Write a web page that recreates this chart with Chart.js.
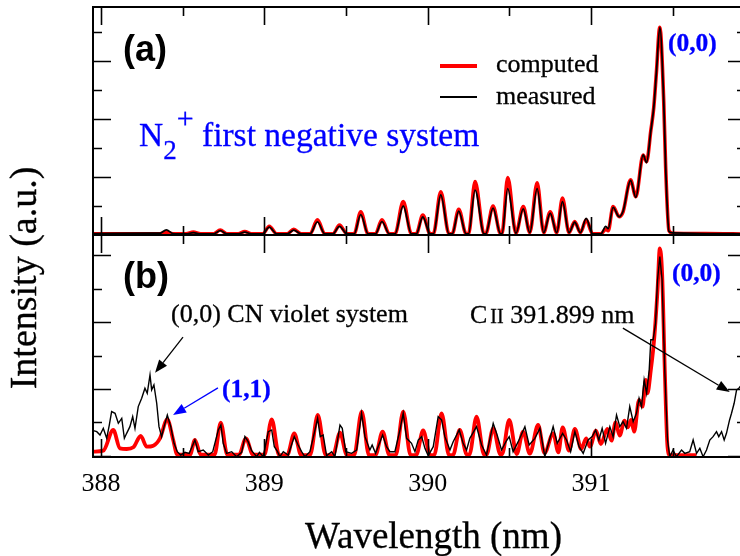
<!DOCTYPE html>
<html><head><meta charset="utf-8">
<script src="https://cdn.jsdelivr.net/npm/chart.js@4/dist/chart.umd.min.js"></script>
<style>
html,body{margin:0;padding:0;overflow:hidden;background:#fff;width:740px;height:556px;}
#wrap{position:relative;width:740px;height:556px;overflow:hidden;background:#fff;}
canvas{position:absolute;left:0;top:0;}
.t{position:absolute;white-space:nowrap;line-height:1;font-family:"Liberation Serif","Times New Roman",serif;color:#000;-webkit-text-stroke:0.3px currentColor;}
.s{position:absolute;white-space:nowrap;line-height:1;font-family:"Liberation Sans",Arial,sans-serif;font-weight:bold;color:#000;}
.blue{color:#0000ff;}
</style></head><body>
<div id="wrap">
<canvas id="ca" width="750" height="556"></canvas>
<canvas id="cb" width="750" height="556"></canvas>
<div class="s" style="left:123px;top:31px;font-size:36px;">(a)</div>
<div class="s" style="left:123px;top:258px;font-size:36px;">(b)</div>
<div class="t blue" style="left:139px;top:118px;font-size:33.5px;">N<span style="font-size:27px;position:relative;top:13px;">2</span><span style="font-size:30px;position:relative;top:-18px;">+</span> first negative system</div>
<div style="position:absolute;left:440px;top:64px;width:37px;height:4px;background:#ff0000;"></div>
<div style="position:absolute;left:440px;top:96px;width:37px;height:1.5px;background:#000;"></div>
<div class="t" style="left:496px;top:51px;font-size:26px;">computed</div>
<div class="t" style="left:496px;top:83px;font-size:26px;">measured</div>
<div class="t blue" style="left:668px;top:30px;font-size:25.5px;font-weight:bold;">(0,0)</div>
<div class="t blue" style="left:672px;top:260px;font-size:25.5px;font-weight:bold;">(0,0)</div>
<div class="t" style="left:171px;top:301px;font-size:26px;">(0,0) CN violet system</div>
<div class="t" style="left:470px;top:302px;font-size:26px;">C<span style="font-size:20px;margin-left:3px;">II</span> 391.899 nm</div>
<div class="t blue" style="left:222px;top:376px;font-size:25.5px;font-weight:bold;">(1,1)</div>
<div class="t" style="left:-127px;top:259px;width:300px;height:38px;font-size:38px;text-align:center;transform:rotate(-90deg);">Intensity (a.u.)</div>
<div class="t" style="left:305px;top:517px;font-size:37px;">Wavelength (nm)</div>
</div>
<script>
// ---- tick values ----
const xTicks = [388, 389, 390, 391];
const xTickMarks = [388, 388.5, 389, 389.5, 390, 390.5, 391, 391.5];
const aYTickMarks = [1, 2, 3, 4, 5, 6, 7];
const bYTickMarks = [0, 1, 2, 3, 4, 5, 6];

// ---- panel (a): N2+ first negative system ----
const aWavelength = [
  387.955, 388.30, 388.36, 388.40, 388.44, 388.52, 388.565, 388.61, 388.69, 388.73,
  388.77, 388.84, 388.88, 388.92, 388.99, 389.03, 389.075, 389.14, 389.18, 389.225,
  389.28, 389.325, 389.37, 389.42, 389.46, 389.505, 389.55, 389.59, 389.635, 389.68,
  389.72, 389.765, 389.80, 389.85, 389.90, 389.93, 389.97, 390.015, 390.035, 390.08,
  390.13, 390.15, 390.19, 390.235, 390.25, 390.29, 390.345, 390.355, 390.40, 390.445,
  390.455, 390.49, 390.54, 390.585, 390.625, 390.67, 390.71, 390.75, 390.79, 390.825,
  390.865, 390.90, 390.935, 390.97, 391.01, 391.06, 391.09, 391.105, 391.135, 391.172,
  391.196, 391.242, 391.274, 391.319, 391.34, 391.366, 391.384, 391.40, 391.421, 391.445,
  391.457, 391.477, 391.50, 391.70, 391.95];
const aComputed = [
  0.04, 0.04, 0.04, 0.10, 0.04, 0.04, 0.10, 0.04, 0.04, 0.17,
  0.04, 0.04, 0.12, 0.04, 0.04, 0.30, 0.04, 0.04, 0.20, 0.04,
  0.04, 0.52, 0.04, 0.04, 0.34, 0.04, 0.04, 0.80, 0.04, 0.04,
  0.52, 0.04, 0.04, 1.15, 0.04, 0.04, 0.69, 0.04, 0.04, 1.49,
  0.04, 0.04, 0.89, 0.04, 0.04, 1.84, 0.04, 0.04, 1.00, 0.05,
  0.05, 1.98, 0.06, 0.98, 0.08, 1.80, 0.08, 0.80, 0.08, 1.27,
  0.08, 0.46, 0.08, 0.52, 0.04, 0.04, 0.20, 0.15, 0.98, 0.63,
  0.80, 1.90, 1.32, 2.76, 2.53, 3.60, 4.40, 5.60, 7.16, 4.60,
  2.30, 0.15, 0.06, 0.05, 0.03];
const aMeasured = [
  0.05, 0.06, 0.06, 0.18, 0.05, 0.04, 0.08, 0.04, 0.04, 0.15,
  0.04, 0.04, 0.10, 0.04, 0.04, 0.27, 0.04, 0.04, 0.17, 0.04,
  0.04, 0.45, 0.04, 0.04, 0.30, 0.04, 0.04, 0.70, 0.04, 0.04,
  0.46, 0.04, 0.04, 1.00, 0.04, 0.04, 0.62, 0.04, 0.04, 1.38,
  0.04, 0.04, 0.82, 0.04, 0.04, 1.55, 0.04, 0.04, 0.93, 0.05,
  0.05, 1.60, 0.06, 0.90, 0.08, 1.60, 0.08, 0.75, 0.08, 1.15,
  0.08, 0.44, 0.08, 0.57, 0.04, 0.04, 0.30, 0.22, 0.95, 0.63,
  0.82, 1.88, 1.30, 2.76, 2.50, 3.60, 4.40, 5.60, 7.16, 4.60,
  2.30, 0.12, 0.07, 0.05, 0.04];

// ---- panel (b): computed ----
const bCompWavelength = [
  387.955, 388.014, 388.075, 388.116, 388.157, 388.198, 388.243, 388.280, 388.320, 388.361,
  388.406, 388.442, 388.467, 388.545, 388.575, 388.610, 388.695, 388.733, 388.773, 388.845,
  388.887, 388.930, 389.000, 389.045, 389.090, 389.140, 389.183, 389.225, 389.280, 389.327,
  389.375, 389.420, 389.463, 389.505, 389.550, 389.596, 389.640, 389.680, 389.724, 389.765,
  389.805, 389.850, 389.895, 389.930, 389.972, 390.015, 390.040, 390.085, 390.130, 390.155,
  390.196, 390.240, 390.255, 390.299, 390.345, 390.360, 390.401, 390.445, 390.455, 390.499,
  390.545, 390.584, 390.625, 390.676, 390.715, 390.768, 390.800, 390.826, 390.865, 390.901,
  390.940, 390.970, 390.993, 391.030, 391.060, 391.100, 391.125, 391.150, 391.175, 391.205,
  391.225, 391.245, 391.264, 391.294, 391.315, 391.335, 391.345, 391.366, 391.386, 391.407,
  391.421, 391.435, 391.452, 391.468, 391.482, 391.646];
const bComputed = [
  0.12, 0.15, 0.77, 0.22, 0.20, 0.25, 0.59, 0.27, 0.30, 0.52,
  1.09, 0.47, 0.03, 0.03, 0.47, 0.03, 0.03, 0.99, 0.03, 0.03,
  0.52, 0.03, 0.03, 1.09, 0.02, 0.02, 0.67, 0.02, 0.02, 1.22,
  0.02, 0.02, 0.69, 0.02, 0.02, 1.32, 0.02, 0.02, 0.72, 0.02,
  0.02, 1.32, 0.02, 0.02, 0.76, 0.02, 0.02, 1.27, 0.02, 0.02,
  0.77, 0.03, 0.03, 1.17, 0.03, 0.03, 0.82, 0.04, 0.04, 1.07,
  0.05, 0.72, 0.06, 0.92, 0.08, 0.67, 0.10, 0.85, 0.15, 0.80,
  0.20, 0.52, 0.27, 0.75, 0.35, 0.80, 0.45, 1.00, 0.60, 1.05,
  0.85, 1.07, 0.72, 1.67, 1.47, 2.27, 1.87, 2.57, 3.47, 4.96,
  6.21, 5.46, 2.47, 0.27, 0.02, 0.02];

// ---- panel (b): measured ----
const bMeasWavelength = [
  387.953, 387.974, 387.994, 388.014, 388.035, 388.051, 388.065, 388.086, 388.106, 388.127,
  388.143, 388.157, 388.177, 388.194, 388.208, 388.228, 388.249, 388.269, 388.283, 388.300,
  388.310, 388.324, 388.341, 388.355, 388.371, 388.386, 388.406, 388.427, 388.447, 388.467,
  388.488, 388.514, 388.540, 388.575, 388.595, 388.626, 388.657, 388.684, 388.718, 388.734,
  388.748, 388.769, 388.800, 388.830, 388.861, 388.881, 388.901, 388.922, 388.953, 388.970,
  388.993, 389.024, 389.045, 389.061, 389.081, 389.095, 389.116, 389.146, 389.183, 389.207,
  389.228, 389.248, 389.279, 389.310, 389.326, 389.342, 389.360, 389.381, 389.412, 389.432,
  389.463, 389.477, 389.498, 389.534, 389.565, 389.595, 389.616, 389.646, 389.660, 389.681,
  389.724, 389.748, 389.769, 389.799, 389.830, 389.850, 389.871, 389.901, 389.922, 389.942,
  389.963, 389.983, 390.003, 390.034, 390.064, 390.085, 390.105, 390.136, 390.156, 390.193,
  390.217, 390.238, 390.258, 390.299, 390.330, 390.360, 390.401, 390.425, 390.452, 390.479,
  390.499, 390.523, 390.554, 390.595, 390.621, 390.656, 390.687, 390.717, 390.737, 390.768,
  390.793, 390.826, 390.850, 390.875, 390.901, 390.927, 390.952, 390.982, 391.007, 391.028,
  391.048, 391.068, 391.089, 391.115, 391.135, 391.156, 391.176, 391.196, 391.217, 391.237,
  391.258, 391.278, 391.294, 391.309, 391.325, 391.340, 391.356, 391.366, 391.380, 391.395,
  391.407, 391.421, 391.435, 391.452, 391.468, 391.482, 391.502, 391.523, 391.554, 391.574,
  391.604, 391.625, 391.646, 391.666, 391.686, 391.707, 391.727, 391.747, 391.768, 391.782,
  391.799, 391.815, 391.829, 391.848, 391.860, 391.876, 391.891, 391.905, 391.950];
const bMeasured = [
  0.75, 0.72, 0.62, 0.82, 0.52, 0.92, 1.32, 1.27, 0.97, 1.12,
  0.52, 0.67, 0.87, 1.17, 0.82, 1.47, 1.72, 2.02, 1.87, 2.42,
  1.97, 2.12, 1.57, 0.87, 0.57, 0.87, 1.22, 0.87, 0.37, 0.12,
  0.02, 0.10, 0.07, 0.47, 0.12, 0.17, 0.02, 0.12, 0.77, 0.92,
  0.37, 0.07, 0.12, -0.03, 0.10, 0.57, 0.42, 0.15, -0.03, 0.10,
  -0.03, 0.72, 0.77, 0.27, 0.12, -0.03, 0.12, 0.02, 0.57, 0.32,
  0.12, -0.03, 0.12, 0.77, 1.12, 0.57, 0.62, 0.00, 0.12, -0.03,
  0.92, 0.82, 0.12, 0.07, 0.17, 1.27, 0.57, 0.17, 0.32, 0.07,
  0.62, 0.27, 0.12, 0.12, 0.77, 1.27, 0.52, 0.37, 0.12, 0.47,
  0.57, 0.22, 0.00, 0.27, 1.17, 1.07, 0.57, 0.17, 0.42, 0.77,
  0.37, 0.17, 0.52, 0.87, 0.32, 0.02, 0.97, 0.62, 0.17, 0.42,
  0.57, 0.12, 0.42, 0.87, 0.32, 0.52, 0.82, -0.03, 0.32, 0.87,
  0.37, 0.67, 0.47, 0.12, 0.72, 0.27, 0.07, 0.47, 0.57, 0.77,
  0.47, 0.82, 0.37, 0.87, 0.57, 1.22, 0.87, 1.02, 0.82, 1.47,
  1.02, 1.27, 1.72, 1.47, 2.27, 1.87, 2.57, 3.47, 3.47, 3.97,
  5.26, 5.96, 5.26, 2.47, 0.47, -0.03, 0.17, -0.03, 0.17, 0.07,
  0.12, 0.47, 0.07, 0.22, -0.03, 0.17, 0.47, 0.57, 0.72, 0.57,
  0.72, 0.47, 0.67, 1.07, 1.27, 1.57, 1.97, 2.02, 2.30];

// ---- annotation arrows (panel b, data coordinates) ----
const arrows = [
  {from: [388.502, 3.55], to: [388.331, 2.48], color: '#000000'},
  {from: [388.716, 2.03], to: [388.441, 1.22], color: '#0000ff'},
  {from: [391.195, 3.82], to: [391.849, 1.91], color: '#000000'}
];

const X_MIN = 387.951, X_MAX = 391.9486;
const SERIF = '"Liberation Serif", "Times New Roman", serif';

function pts(xs, ys) { return xs.map((x, i) => ({x: x, y: ys[i]})); }

function framePlugin(yMarks, majorTest) {
  return {
    id: 'frame',
    afterDraw(chart) {
      const ctx = chart.ctx, a = chart.chartArea, xs = chart.scales.x, ys = chart.scales.y;
      ctx.save();
      ctx.strokeStyle = '#000';
      ctx.lineWidth = 2;
      ctx.beginPath();
      ctx.moveTo(a.left, a.top); ctx.lineTo(a.right, a.top);
      ctx.moveTo(a.left, a.bottom); ctx.lineTo(a.right, a.bottom);
      ctx.moveTo(a.left, a.top - 1); ctx.lineTo(a.left, a.bottom + 1);
      ctx.moveTo(a.right, a.top - 1); ctx.lineTo(a.right, a.bottom + 1);
      ctx.stroke();
      ctx.lineWidth = 1.6;
      ctx.beginPath();
      xTickMarks.forEach(v => {
        const px = Math.round(xs.getPixelForValue(v)) + 0.5;
        const len = Number.isInteger(v) ? 18 : 9;
        ctx.moveTo(px, a.top); ctx.lineTo(px, a.top + len);
        ctx.moveTo(px, a.bottom); ctx.lineTo(px, a.bottom - len);
      });
      yMarks.forEach(v => {
        const py = Math.round(ys.getPixelForValue(v)) + 0.5;
        const len = majorTest(v) ? 18 : 9;
        ctx.moveTo(a.left, py); ctx.lineTo(a.left + len, py);
        ctx.moveTo(a.right, py); ctx.lineTo(a.right - len, py);
      });
      ctx.stroke();
      ctx.restore();
    }
  };
}

const arrowPlugin = {
  id: 'arrows',
  afterDraw(chart) {
    const ctx = chart.ctx, xs = chart.scales.x, ys = chart.scales.y;
    ctx.save();
    arrows.forEach(ar => {
      const x1 = xs.getPixelForValue(ar.from[0]), y1 = ys.getPixelForValue(ar.from[1]);
      const x2 = xs.getPixelForValue(ar.to[0]), y2 = ys.getPixelForValue(ar.to[1]);
      const ang = Math.atan2(y2 - y1, x2 - x1);
      const hl = 13, hw = 5;
      const bx = x2 - hl * Math.cos(ang), by = y2 - hl * Math.sin(ang);
      ctx.strokeStyle = ar.color; ctx.fillStyle = ar.color; ctx.lineWidth = 1.3;
      ctx.beginPath(); ctx.moveTo(x1, y1); ctx.lineTo(bx, by); ctx.stroke();
      ctx.beginPath();
      ctx.moveTo(x2, y2);
      ctx.lineTo(bx + hw * Math.sin(ang), by - hw * Math.cos(ang));
      ctx.lineTo(bx - hw * Math.sin(ang), by + hw * Math.cos(ang));
      ctx.closePath(); ctx.fill();
    });
    ctx.restore();
  }
};

const common = {
  responsive: false, animation: false, devicePixelRatio: 1,
  plugins: {legend: {display: false}, tooltip: {enabled: false}},
  elements: {point: {radius: 0}}
};

new Chart(document.getElementById('ca'), {
  type: 'scatter',
  data: {datasets: [
    {data: pts(aWavelength, aMeasured), showLine: true, borderColor: '#000', borderWidth: 1.8, cubicInterpolationMode: 'monotone', pointRadius: 0},
    {data: pts(aWavelength, aComputed), showLine: true, borderColor: '#ff0000', borderWidth: 3.6, cubicInterpolationMode: 'monotone', pointRadius: 0}
  ]},
  options: Object.assign({}, common, {
    layout: {padding: {left: 93, right: 4, top: 7, bottom: 321}},
    scales: {
      x: {type: 'linear', min: X_MIN, max: X_MAX, display: false},
      y: {type: 'linear', min: 0, max: 7.862, display: false}
    }
  }),
  plugins: [framePlugin(aYTickMarks, v => v % 2 === 0)]
});

new Chart(document.getElementById('cb'), {
  type: 'scatter',
  data: {datasets: [
    {data: pts(bMeasWavelength, bMeasured), showLine: true, borderColor: '#000', borderWidth: 1.4, tension: 0, pointRadius: 0},
    {data: pts(bCompWavelength, bComputed), showLine: true, borderColor: '#ff0000', borderWidth: 3.8, cubicInterpolationMode: 'monotone', pointRadius: 0}
  ]},
  options: Object.assign({}, common, {
    layout: {padding: {left: 93, right: 4, top: 235, bottom: 0}},
    scales: {
      x: {
        type: 'linear', min: X_MIN, max: X_MAX, position: 'bottom',
        grid: {display: false, drawTicks: false},
        border: {display: false},
        afterBuildTicks: s => { s.ticks = xTicks.map(v => ({value: v})); },
        afterFit: s => { s.height = 99; },
        ticks: {color: '#000', font: {family: SERIF, size: 26}, padding: 12, maxRotation: 0, autoSkip: false,
                callback: v => String(v)},
        title: {display: false}
      },
      y: {type: 'linear', min: -0.039, max: 6.608, display: false}
    }
  }),
  plugins: [framePlugin(bYTickMarks, v => v % 2 === 0), arrowPlugin]
});
</script>
</body></html>
